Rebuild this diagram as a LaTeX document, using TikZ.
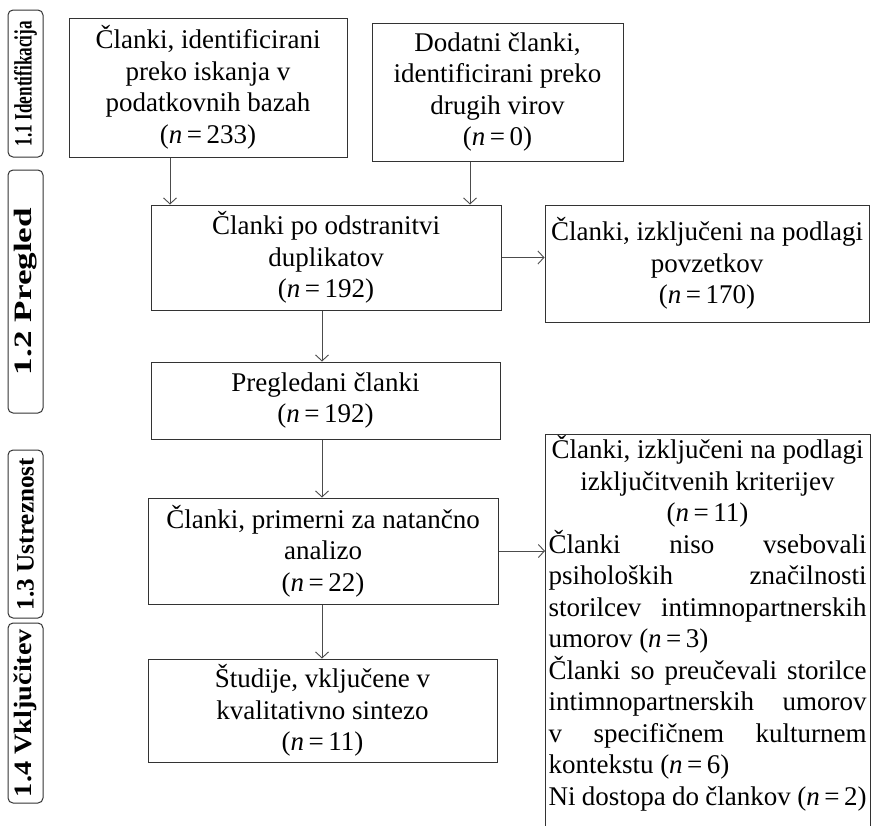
\documentclass[tikz,border=0pt]{standalone}
\usepackage{fontspec}
\setmainfont{Liberation Serif}
\usepackage{graphicx}
\usetikzlibrary{arrows.meta,positioning}

\newcommand{\stev}[1]{(\textit{n}\,=\,#1)}
\newcommand{\raztegni}[2]{\resizebox{#1}{\height}{#2}}
\newcommand{\vrsta}[1]{\makebox[318pt][s]{#1}}
\newcommand{\sredi}[1]{\makebox[318pt][c]{#1}}

\tikzset{
  okvir/.style={draw=black!80, line width=1pt, rectangle, inner sep=0pt, align=center,
    font=\fontsize{27}{31.5}\selectfont},
  faza/.style={draw=black!80, line width=1pt, rounded corners=5pt, rotate=90, inner sep=0pt,
    minimum height=35pt, font=\fontsize{25}{28}\selectfont\bfseries},
  puscica/.style={draw=black!70, line width=0.9pt, -{Straight Barb[length=6pt,width=13pt]}}
}

\begin{document}
\begin{tikzpicture}[x=1pt, y=-1pt]
  \useasboundingbox (0,0) rectangle (874,825);
  \clip (0,0) rectangle (874,825);

  % Stage labels
  \node[faza, minimum width=147pt] (f1) at (25.5,83.5) {\raztegni{125pt}{1.1 Identifikacija}};
  \node[faza, minimum width=243pt] (f2) at (25.5,291.5) {\raztegni{167pt}{1.2 Pregled}};
  \node[faza, minimum width=168pt] (f3) at (25.5,534) {\raztegni{152pt}{1.3 Ustreznost}};
  \node[faza, minimum width=180pt] (f4) at (25.5,713) {\raztegni{168pt}{1.4 Vključitev}};

  % Boxes
  \node[okvir, minimum width=278pt, minimum height=139pt] (baze) at (208,87.5)
    {Članki, identificirani\\ preko iskanja v\\ podatkovnih bazah\\ \stev{233}};
  \node[okvir, minimum width=251pt, minimum height=138pt] (viri) at (497.5,92)
    {Dodatni članki,\\ identificirani preko\\ drugih virov\\ \stev{0}};
  \node[okvir, minimum width=350pt, minimum height=105pt] (dupl) at (326,257.5)
    {Članki po odstranitvi\\ duplikatov\\ \stev{192}};
  \node[okvir, minimum width=324pt, minimum height=117pt] (povz) at (707,263.5)
    {Članki, izključeni na podlagi\\ povzetkov\\ \stev{170}};
  \node[okvir, minimum width=349pt, minimum height=77pt] (pregl) at (325.5,400.5)
    {Pregledani članki\\ \stev{192}};
  \node[okvir, minimum width=350pt, minimum height=106pt] (anal) at (323,551)
    {Članki, primerni za natančno\\ analizo\\ \stev{22}};
  \node[okvir, minimum width=349pt, minimum height=103pt] (sint) at (322.5,710.5)
    {Študije, vključene v\\ kvalitativno sintezo\\ \stev{11}};
  \node[okvir, draw=none, align=left, text width=318pt, inner xsep=3pt, inner ysep=1pt,
    anchor=north west] (izkl) at (545,434)
    {\spaceskip=0pt\xspaceskip=0pt
     \sredi{Članki, izključeni na podlagi}\\
     \sredi{izključitvenih kriterijev}\\
     \sredi{\stev{11}}\\
     \vrsta{Članki niso vsebovali}\\
     \vrsta{psiholoških značilnosti}\\
     \vrsta{storilcev intimnopartnerskih}\\
     umorov \stev{3}\\
     \vrsta{Članki so preučevali storilce}\\
     \vrsta{intimnopartnerskih umorov}\\
     \vrsta{v specifičnem kulturnem}\\
     kontekstu \stev{6}\\
     \vrsta{Ni dostopa do člankov \stev{2}}};
  \coordinate (dno) at (0,830);
  \draw[draw=black!80, line width=1pt] (izkl.north west |- dno) -- (izkl.north west)
    -- (izkl.north east) -- (izkl.north east |- dno);

  % Arrows
  \coordinate (xa) at (170,0);
  \coordinate (xb) at (470,0);
  \coordinate (xs) at (322,0);
  \draw[puscica] (baze.south -| xa) -- (dupl.north -| xa);
  \draw[puscica] (viri.south -| xb) -- (dupl.north -| xb);
  \draw[puscica] (dupl.east) -- (povz.west |- dupl.east);
  \draw[puscica] (dupl.south -| xs) -- (pregl.north -| xs);
  \draw[puscica] (pregl.south -| xs) -- (anal.north -| xs);
  \draw[puscica] (anal.east) -- (izkl.west |- anal.east);
  \draw[puscica] (anal.south -| xs) -- (sint.north -| xs);
\end{tikzpicture}
\end{document}
